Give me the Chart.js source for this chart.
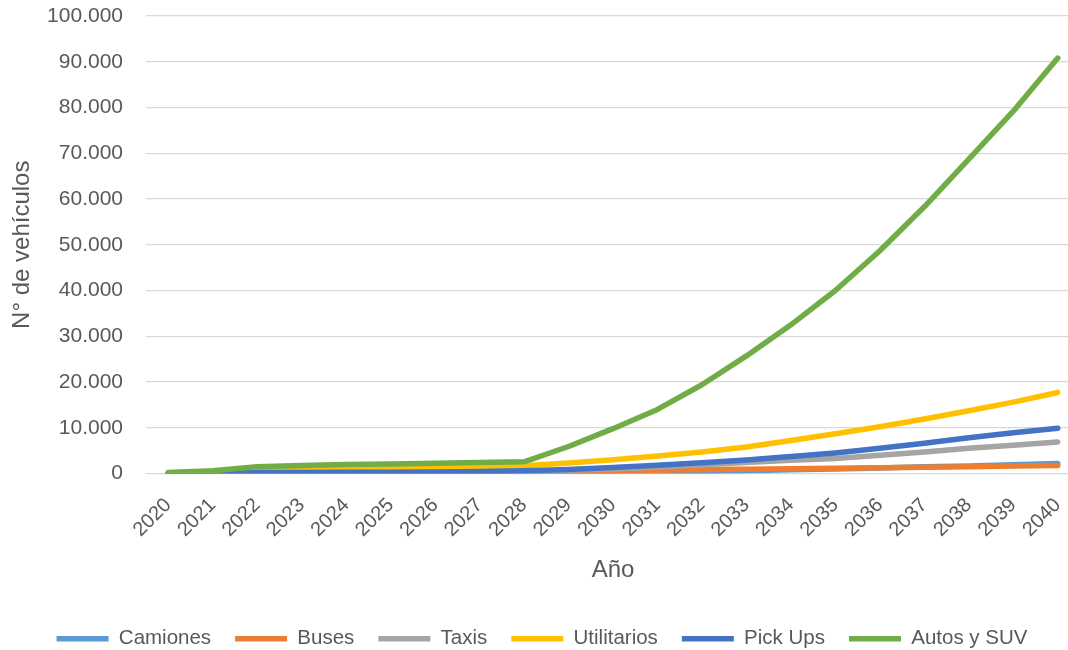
<!DOCTYPE html>
<html>
<head>
<meta charset="utf-8">
<script src="https://cdn.jsdelivr.net/npm/chart.js@4.4.1/dist/chart.umd.min.js"></script>
<style>
  html, body { margin: 0; padding: 0; background: #fff; overflow: hidden; }
  #wrap { width: 1068px; height: 650px; overflow: hidden; position: relative; }
  #myChart { position: absolute; left: 0; top: 0; }
</style>
</head>
<body>
<div id="wrap"><canvas id="myChart" width="1090" height="660"></canvas></div>
<script>
// años de la proyección
var years = ["2020", "2021", "2022", "2023", "2024", "2025", "2026", "2027", "2028", "2029",
             "2030", "2031", "2032", "2033", "2034", "2035", "2036", "2037", "2038", "2039", "2040"];

// N° de vehículos por tipo
var camiones    = [0, 5, 10, 15, 20, 25, 30, 40, 50, 100, 200, 300, 450, 600, 800, 1000, 1200, 1450, 1650, 1900, 2200];
var buses       = [0, 5, 20, 30, 40, 50, 70, 120, 200, 400, 550, 700, 850, 950, 1050, 1150, 1250, 1350, 1500, 1620, 1750];
var taxis       = [0, 10, 50, 60, 80, 100, 150, 250, 400, 700, 1000, 1400, 1900, 2400, 2900, 3300, 4000, 4700, 5500, 6200, 6900];
var utilitarios = [0, 200, 700, 850, 1000, 1150, 1300, 1480, 1680, 2300, 3000, 3800, 4700, 5800, 7200, 8700, 10200, 11900, 13700, 15600, 17700];
var pickUps     = [0, 50, 200, 220, 250, 280, 330, 420, 580, 900, 1300, 1800, 2350, 2950, 3700, 4500, 5500, 6600, 7800, 8900, 9900];
var autosSuv    = [200, 600, 1500, 1750, 1950, 2100, 2250, 2400, 2550, 5900, 9800, 14000, 19400, 25700, 32500, 40000, 48700, 58300, 68700, 79200, 90800];

var seriesNames  = ["Camiones", "Buses", "Taxis", "Utilitarios", "Pick Ups", "Autos y SUV"];
var seriesData   = [camiones, buses, taxis, utilitarios, pickUps, autosSuv];
var seriesColors = ["#5B9BD5", "#ED7D31", "#A5A5A5", "#FFC000", "#4472C4", "#70AD47"];

var textColor = "#595959";
var fontFamily = "'Liberation Sans', Arial, sans-serif";

var datasets = [];
for (var i = 0; i < seriesNames.length; i++) {
    datasets.push({
        label: seriesNames[i],
        data: seriesData[i],
        borderColor: seriesColors[i],
        backgroundColor: seriesColors[i],
        borderWidth: 5.5,
        borderCapStyle: "round",
        borderJoinStyle: "round",
        pointRadius: 0,
        pointHoverRadius: 0,
        tension: 0,
        fill: false,
        // last series drawn on top
        order: seriesNames.length - i
    });
}

function miles(v) {
    return String(v).replace(/\B(?=(\d{3})+(?!\d))/g, ".");
}

var ctx = document.getElementById("myChart");

var lineChart = new Chart(ctx, {
    type: "line",
    data: {
        labels: years,
        datasets: datasets
    },
    options: {
        responsive: false,
        animation: false,
        layout: {
            padding: { top: 0, right: 10, bottom: 1, left: 4 }
        },
        plugins: {
            legend: {
                position: "bottom",
                labels: {
                    usePointStyle: true,
                    pointStyle: "line",
                    pointStyleWidth: 52,
                    padding: 24,
                    color: textColor,
                    font: { family: fontFamily, size: 20.5 },
                    sort: function(a, b) { return a.datasetIndex - b.datasetIndex; }
                }
            },
            tooltip: { enabled: false }
        },
        scales: {
            x: {
                offset: true,
                grid: { display: false, drawTicks: false },
                border: { display: false },
                ticks: {
                    minRotation: 45,
                    maxRotation: 45,
                    padding: 20,
                    color: textColor,
                    font: { family: fontFamily, size: 20 }
                },
                title: {
                    display: true,
                    text: "Año",
                    color: textColor,
                    font: { family: fontFamily, size: 24 },
                    padding: { top: 0, bottom: 20 }
                },
                afterFit: function(scale) {
                    // rotated year labels should not push the plot inwards
                    scale.paddingLeft = 0;
                    scale.paddingRight = 0;
                    scale.height = 131;
                }
            },
            y: {
                min: 0,
                max: 100000,
                grid: { color: "#D9D9D9", lineWidth: 1.3, drawTicks: false },
                border: { display: false },
                ticks: {
                    stepSize: 10000,
                    padding: 23,
                    color: textColor,
                    font: { family: fontFamily, size: 21 },
                    callback: function(v) { return miles(v); }
                },
                title: {
                    display: true,
                    text: "N° de vehículos",
                    color: textColor,
                    font: { family: fontFamily, size: 24 },
                    padding: { top: 4, bottom: 10 }
                },
                afterFit: function(scale) {
                    scale.paddingTop = 16;
                    scale.width = 142;
                }
            }
        }
    }
});
</script>
</body>
</html>
